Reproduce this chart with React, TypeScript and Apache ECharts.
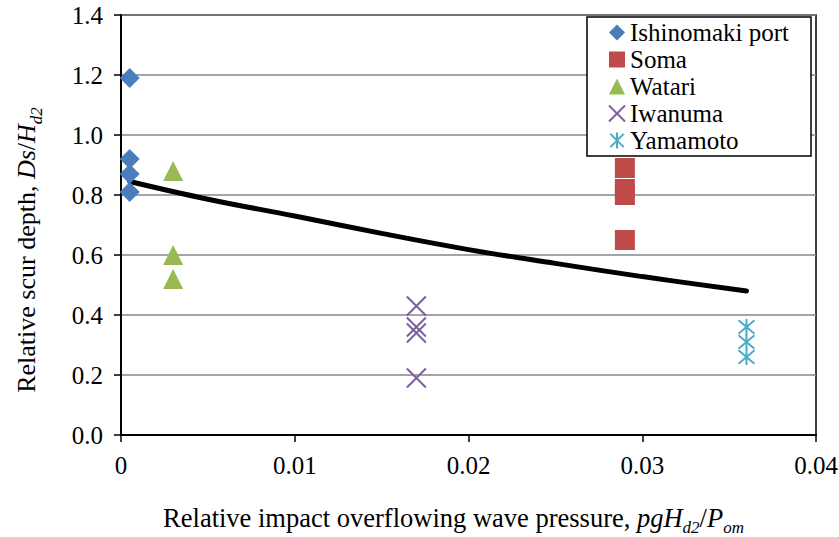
import React, { useEffect, useRef } from "react";
import * as echarts from "echarts";

const ishinomakiX = [0.0005, 0.0005, 0.0005, 0.0005];
const ishinomakiY = [1.19, 0.92, 0.87, 0.81];
const somaX = [0.029, 0.029, 0.029, 0.029];
const somaY = [0.89, 0.82, 0.8, 0.65];
const watariX = [0.003, 0.003, 0.003];
const watariY = [0.88, 0.6, 0.52];
const iwanumaX = [0.017, 0.017, 0.017, 0.017];
const iwanumaY = [0.43, 0.36, 0.34, 0.19];
const yamamotoX = [0.036, 0.036, 0.036];
const yamamotoY = [0.36, 0.31, 0.26];
const fitX = [0.0005, 0.005, 0.01, 0.015, 0.02, 0.025, 0.03, 0.036];
const fitY = [0.845, 0.786, 0.73, 0.672, 0.618, 0.572, 0.528, 0.48];

const seriesNames = ["Ishinomaki port", "Soma", "Watari", "Iwanuma", "Yamamoto"];
const xTicks = [0, 0.01, 0.02, 0.03, 0.04];

const pair = (xs: number[], ys: number[]) => xs.map((x, i) => [x, ys[i]]);

const FONT = "Liberation Serif";
const TICK_FS = 25;

const makeRich = (fs: number) => ({
  i: { fontStyle: "italic", fontFamily: FONT, fontSize: fs, color: "#000", lineHeight: fs + 2, verticalAlign: "top" },
  n: { fontFamily: FONT, fontSize: fs, color: "#000", lineHeight: fs + 2, verticalAlign: "top" },
  sub: {
    fontStyle: "italic",
    fontFamily: FONT,
    fontSize: Math.round(fs * 0.65),
    color: "#000",
    lineHeight: Math.round(fs * 0.65),
    padding: [Math.round(fs * 0.57), 0, 0, 0],
    verticalAlign: "top",
  },
});

export default function App() {
  const ref = useRef<HTMLDivElement>(null);
  useEffect(() => {
    const chart = echarts.init(ref.current!, null, { renderer: "svg" });
    const crossPath = "path://M0,0L10,10M10,0L0,10";
    const starPath = "path://M0,0L10,10M10,0L0,10M5,-1L5,11";
    chart.setOption({
      animation: false,
      backgroundColor: "#fff",
      textStyle: { fontFamily: FONT, fontSize: 25 },
      grid: {
        left: 121,
        right: 23,
        top: 15,
        bottom: 102,
        show: true,
        borderColor: "#000",
        borderWidth: 1.5,
        containLabel: false,
        outerBoundsMode: "none",
      },
      legend: {
        orient: "vertical",
        left: 587,
        top: 17,
        data: seriesNames,
        backgroundColor: "#fff",
        borderColor: "#000",
        borderWidth: 1.5,
        borderRadius: 0,
        padding: [3, 22, 3, 21],
        itemGap: 2,
        itemWidth: 16,
        itemHeight: 16,
        textStyle: {
          fontFamily: FONT,
          fontSize: 25,
          color: "#000",
          lineHeight: 25,
        },
      },
      xAxis: {
        type: "value",
        min: 0,
        max: 0.04,
        interval: 0.01,
        axisLine: { show: true, onZero: false, lineStyle: { color: "#000", width: 2 } },
        axisTick: { show: true, inside: false, length: 7, lineStyle: { color: "#000", width: 1.5 } },
        splitLine: { show: false },
        axisLabel: {
          color: "#000",
          fontFamily: FONT,
          fontSize: TICK_FS,
          margin: 18,
          formatter: (v: number) => {
            const idx = xTicks.findIndex((t) => Math.abs(t - v) < 1e-9);
            return idx === 0 ? "0" : String(xTicks[idx] ?? v);
          },
        },
        name:
          "{n|Relative impact overflowing wave pressure, }{i|pg}{i|H}{sub|d2}{n|/}{i|P}{sub|om}",
        nameLocation: "middle",
        nameGap: 69,
        nameTextStyle: {
          color: "#000",
          fontFamily: FONT,
          fontSize: 26.5,
          padding: [0, 30, 0, 0],
          rich: makeRich(26.5),
        },
      },
      yAxis: {
        type: "value",
        min: 0,
        max: 1.4,
        interval: 0.2,
        axisLine: { show: true, onZero: false, lineStyle: { color: "#000", width: 2 } },
        axisTick: { show: true, inside: false, length: 7, lineStyle: { color: "#000", width: 1.5 } },
        splitLine: { show: true, lineStyle: { color: "#868686", width: 1.5 } },
        axisLabel: {
          color: "#000",
          fontFamily: FONT,
          fontSize: TICK_FS,
          margin: 18,
          formatter: (v: number) => v.toFixed(1),
        },
        name: "{n|Relative scur depth, }{i|Ds}{n|/}{i|H}{sub|d2}",
        nameLocation: "middle",
        nameRotate: 90,
        nameGap: 80,
        nameTextStyle: {
          color: "#000",
          fontFamily: FONT,
          fontSize: 26,
          padding: [0, 50, 0, 0],
          rich: makeRich(26),
        },
      },
      series: [
        {
          name: "Fit",
          type: "line",
          data: pair(fitX, fitY),
          smooth: 0.4,
          showSymbol: false,
          symbol: "none",
          lineStyle: { color: "#000", width: 5, cap: "round" },
          z: 1,
        },
        {
          name: "Ishinomaki port",
          type: "scatter",
          data: pair(ishinomakiX, ishinomakiY),
          symbol: "diamond",
          symbolSize: 20,
          itemStyle: { color: "#4A7EBB", opacity: 1 },
          z: 3,
        },
        {
          name: "Soma",
          type: "scatter",
          data: pair(somaX, somaY),
          symbol: "rect",
          symbolSize: 20,
          itemStyle: { color: "#BE4B48", opacity: 1 },
          z: 3,
        },
        {
          name: "Watari",
          type: "scatter",
          data: pair(watariX, watariY),
          symbol: "triangle",
          symbolSize: [20, 20],
          itemStyle: { color: "#98B954", opacity: 1 },
          z: 3,
        },
        {
          name: "Iwanuma",
          type: "scatter",
          data: pair(iwanumaX, iwanumaY),
          symbol: crossPath,
          symbolSize: 19,
          itemStyle: { color: "transparent", borderColor: "#7D60A0", borderWidth: 2, opacity: 1 },
          z: 3,
        },
        {
          name: "Yamamoto",
          type: "scatter",
          data: pair(yamamotoX, yamamotoY),
          symbol: starPath,
          symbolSize: 16,
          itemStyle: { color: "transparent", borderColor: "#4AACC5", borderWidth: 2, opacity: 1 },
          z: 3,
        },
      ],
    });
    return () => chart.dispose();
  }, []);
  return <div ref={ref} style={{ width: 839, height: 537, position: "absolute", left: 0, top: 0 }} />;
}
